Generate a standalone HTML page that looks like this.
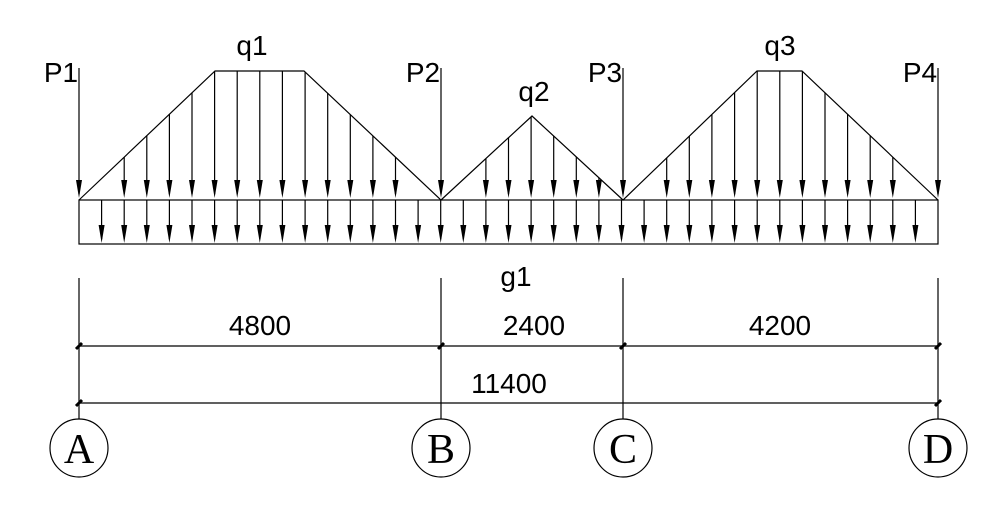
<!DOCTYPE html>
<html><head><meta charset="utf-8"><style>
html,body{margin:0;padding:0;background:#fff;width:1003px;height:519px;overflow:hidden}
svg text{font-family:"Liberation Sans Narrow","Liberation Sans",sans-serif;fill:#000}
</style></head><body>
<svg id="s" width="1003" height="519" viewBox="0 0 1003 519" xmlns="http://www.w3.org/2000/svg" stroke="#000" stroke-width="1.2" fill="none">
<polyline points="79,200 215,71 304,71 441,200 532,116 623,200 757,71 802,71 938,200"/>
<rect x="79" y="200" width="859" height="44"/>
<g id="arr"></g>
<line x1="79" y1="278" x2="79" y2="419"/>
<line x1="441" y1="278" x2="441" y2="419"/>
<line x1="623" y1="278" x2="623" y2="419"/>
<line x1="938" y1="278" x2="938" y2="419"/>
<line x1="79" y1="346" x2="938" y2="346"/>
<line x1="79" y1="403" x2="938" y2="403"/>
<g stroke-width="3">
<line x1="76" y1="349" x2="82" y2="343"/><line x1="438" y1="349" x2="444" y2="343"/><line x1="620" y1="349" x2="626" y2="343"/><line x1="935" y1="349" x2="941" y2="343"/>
<line x1="76" y1="406" x2="82" y2="400"/><line x1="935" y1="406" x2="941" y2="400"/>
</g>
<circle cx="79" cy="448" r="29"/><circle cx="441" cy="448" r="29"/><circle cx="623" cy="448" r="29"/><circle cx="938" cy="448" r="29"/>
<g stroke="none" font-size="28" text-anchor="middle">
<text x="61" y="82">P1</text><text x="423" y="82">P2</text><text x="605" y="82">P3</text><text x="920" y="82">P4</text>
<text x="252" y="55">q1</text><text x="534" y="101">q2</text><text x="780" y="55">q3</text>
<text x="516" y="286">g1</text>
<text x="260" y="335">4800</text><text x="534" y="335">2400</text><text x="780" y="335">4200</text>
<text x="509" y="393">11400</text>
</g>
<g stroke="none" font-size="42" text-anchor="middle">
<text x="79" y="463" style="font-family:'Liberation Serif',serif">A</text>
<text x="441" y="463" style="font-family:'Liberation Serif',serif">B</text>
<text x="623" y="463" style="font-family:'Liberation Serif',serif">C</text>
<text x="938" y="463" style="font-family:'Liberation Serif',serif">D</text>
</g>
</svg>
<script>
(function(){
function loadY(x){
 if(x<=215)return 200-(x-79)/(215-79)*129;
 if(x<=304)return 71;
 if(x<=441)return 71+(x-304)/(441-304)*129;
 if(x<=532)return 200-(x-441)/91*84;
 if(x<=623)return 116+(x-532)/91*84;
 if(x<=757)return 200-(x-623)/134*129;
 if(x<=802)return 71;
 return 71+(x-802)/136*129;
}
var NS='http://www.w3.org/2000/svg';
var g=document.getElementById('arr');
function el(n,a){var e=document.createElementNS(NS,n);for(var k in a)e.setAttribute(k,a[k]);g.appendChild(e);}
function arrow(x,y1,y2){
 el('line',{x1:x,y1:y1,x2:x,y2:y2-4});
 el('polygon',{fill:'#000',stroke:'none',points:(x-3)+','+(y2-18)+' '+(x+3)+','+(y2-18)+' '+x+','+y2});
}
var step=859/38;
for(var k=1;k<38;k++){
 var x=+(79+k*step).toFixed(1);
 var t=loadY(x);
 if(200-t>22)arrow(x,t,198);
 arrow(x,200,243);
}
[79,441,623,938].forEach(function(x){arrow(x,68,198);});
})();
</script>
</body></html>
